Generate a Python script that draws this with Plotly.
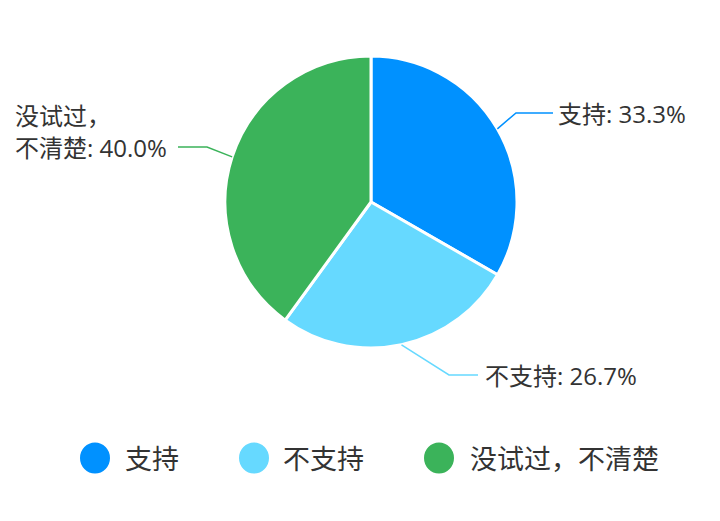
import math
import plotly.graph_objects as go

# ---- data -------------------------------------------------------------
categories = ["支持", "不支持", "没试过，不清楚"]
shares = [33.3, 26.7, 40.0]          # percent
colors = ["#0091FF", "#66D9FF", "#3BB35A"]

# ---- canvas / layout constants (pixels) -------------------------------
W, H = 720, 521
CX, CY, R = 371, 202, 146            # pie centre and radius
TEXT = "#333333"
FONT = "Open Sans, Noto Sans CJK SC, sans-serif"
LABEL_SIZE = 24
LEGEND_SIZE = 27

# leader-line elbow and end points, and label anchor per slice
leader = [
    dict(elbow=(516, 113), end=(553, 113), text_x=556),
    dict(elbow=(449, 375), end=(478, 375), text_x=483),
    dict(elbow=(207, 147), end=(178, 147), text_x=13),
]
legend_items = [(95, 123), (254, 281), (439, 468)]   # circle centre x, text x
LEGEND_Y = 458


def px(x):
    return x / W


def py(y):
    return 1 - y / H


fig = go.Figure(
    go.Pie(
        labels=categories,
        values=shares,
        sort=False,
        direction="clockwise",
        rotation=0,
        marker=dict(colors=colors, line=dict(color="white", width=3)),
        textinfo="none",
        hoverinfo="label+percent",
        showlegend=False,
        domain=dict(x=[px(CX - R), px(CX + R)], y=[py(CY + R), py(CY - R)]),
    )
)

shapes, annotations = [], []
total = sum(shares)
cum = 0.0
for cat, val, col, ld in zip(categories, shares, colors, leader):
    mid = (cum + val / 2) / total * 2 * math.pi
    cum += val
    sx = CX + R * math.sin(mid)
    sy = CY - R * math.cos(mid)
    ex, ey = ld["elbow"]
    fx, fy = ld["end"]
    path = f"M {px(sx)} {py(sy)} L {px(ex)} {py(ey)} L {px(fx)} {py(fy)}"
    shapes.append(dict(type="path", xref="paper", yref="paper", path=path,
                       line=dict(color=col, width=1.5)))
    if "，" in cat:
        first, rest = cat.split("，", 1)
        lines = [(first + "，", fy - 31), (f"{rest}: {val:.1f}%", fy)]
    else:
        lines = [(f"{cat}: {val:.1f}%", fy)]
    for txt, ty in lines:
        annotations.append(dict(
            x=px(ld["text_x"]), y=py(ty), xref="paper", yref="paper",
            text=txt, showarrow=False, xanchor="left", yanchor="middle",
            font=dict(size=LABEL_SIZE, color=TEXT, family=FONT)))

# legend drawn as round markers with text
for (cx, tx), cat, col in zip(legend_items, categories, colors):
    shapes.append(dict(type="circle", xref="paper", yref="paper",
                       x0=px(cx - 15), x1=px(cx + 15),
                       y0=py(LEGEND_Y + 15.5), y1=py(LEGEND_Y - 15.5),
                       fillcolor=col, line=dict(width=0)))
    annotations.append(dict(
        x=px(tx), y=py(LEGEND_Y), xref="paper", yref="paper", text=cat,
        showarrow=False, xanchor="left", yanchor="middle",
        font=dict(size=LEGEND_SIZE, color=TEXT, family=FONT)))

fig.update_layout(
    width=W, height=H,
    margin=dict(l=0, r=0, t=0, b=0),
    paper_bgcolor="white", plot_bgcolor="white",
    shapes=shapes, annotations=annotations,
    font=dict(family=FONT),
)

fig.write_html("out.html")
